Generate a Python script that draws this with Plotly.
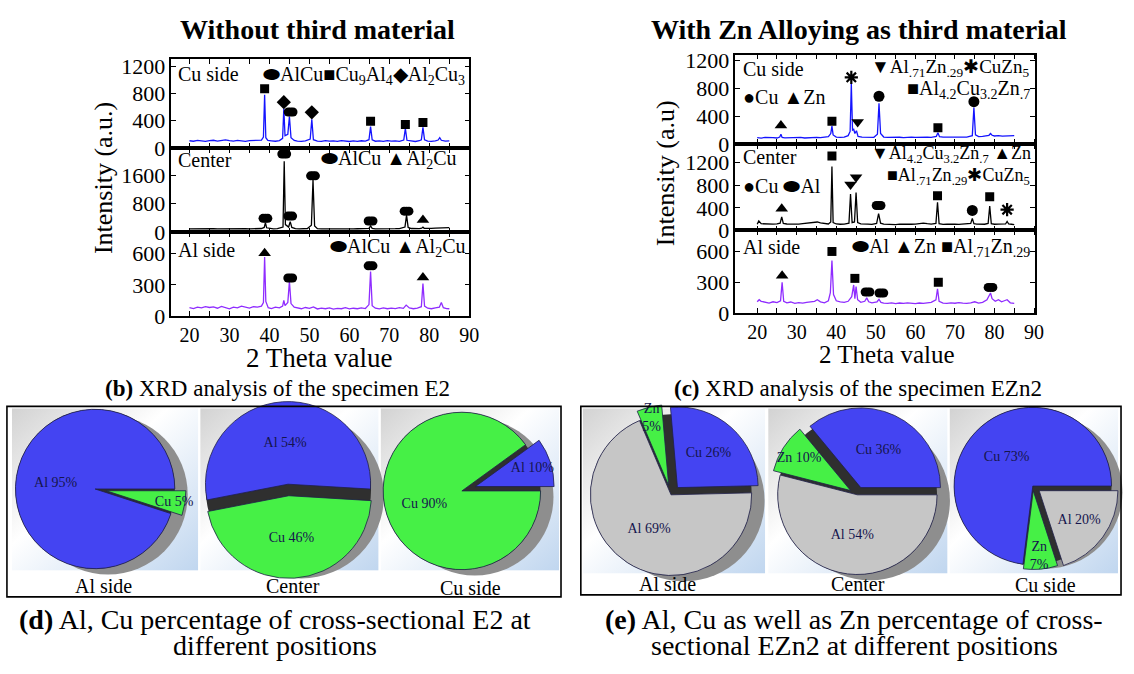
import base64
import plotly.graph_objects as go

W, H = 1134, 674
FONT = "Liberation Serif, Times New Roman, serif"

# ---------------- XRD data (2 theta, intensity) ----------------
# Without third material (E2)
XL_CU = [20, 21, 22, 23, 24, 25, 26, 27, 28, 29,
         30, 31, 32, 33, 34, 35, 36, 37, 38.0, 38.5,
         38.8, 39.1, 39.6, 40.5, 41.5, 42.5, 43.3, 43.6, 43.9, 44.6,
         45.0, 45.4, 46.2, 47, 48, 49, 50.2, 50.6, 51.0, 52,
         53, 54, 55, 56, 57, 58, 59, 60, 61, 62,
         63, 64, 64.9, 65.3, 65.7, 66.5, 67.5, 68.5, 69.5, 70.5,
         71.5, 72.5, 73.6, 74.0, 74.4, 75.5, 76.5, 77.5, 78.0, 78.4,
         78.8, 79.6, 80.5, 81.5, 82.2, 82.6, 83.0, 84, 85]
YL_CU = [105, 98, 110, 102, 95, 108, 112, 100, 104, 118,
         106, 99, 110, 103, 97, 108, 112, 120, 115, 160,
         782, 150, 110, 104, 98, 108, 140, 580, 180, 200,
         460, 150, 110, 100, 96, 104, 130, 421, 120, 100,
         95, 106, 98, 103, 96, 108, 100, 94, 102, 97,
         105, 100, 120, 312, 118, 98, 103, 95, 106, 99,
         104, 97, 115, 288, 112, 100, 94, 105, 120, 302,
         118, 100, 96, 104, 115, 150, 112, 98, 102]

XL_CE = [20, 21, 22, 23, 24, 25, 26, 27, 28, 29,
         30, 31, 32, 33, 34, 35, 36, 37, 38.0, 38.7,
         39.0, 39.3, 40.2, 41, 42, 43.0, 43.4, 43.7, 44.0, 44.8,
         45.2, 45.6, 46.5, 47.5, 48.5, 49.5, 50.5, 50.9, 51.3, 52,
         53, 54, 55, 56, 57, 58, 59, 60, 61, 62,
         63, 64, 64.9, 65.3, 65.7, 66.5, 67.5, 68.5, 69.5, 70.5,
         71.5, 72.5, 73.9, 74.3, 74.7, 75.5, 76.5, 77.5, 78.1, 78.4,
         78.7, 79.5, 80.5, 81.5, 82.5, 83.5, 84.2, 85]
YL_CE = [100, 104, 98, 102, 99, 101, 105, 97, 100, 103,
         98, 102, 100, 97, 104, 99, 102, 100, 110, 140,
         273, 130, 105, 100, 104, 130, 150, 1990, 220, 150,
         300, 140, 105, 100, 98, 110, 200, 1460, 180, 105,
         100, 98, 103, 99, 101, 97, 104, 100, 98, 102,
         100, 104, 115, 183, 112, 100, 98, 103, 99, 101,
         104, 108, 150, 485, 140, 110, 104, 108, 118, 150,
         115, 108, 112, 118, 125, 130, 140, 135]

XL_AL = [20, 21, 22, 23, 24, 25, 26, 27, 28, 29,
         30, 31, 32, 33, 34, 35, 36, 37, 38.0, 38.5,
         38.8, 39.1, 39.7, 40.5, 41.5, 42.5, 43.3, 43.6, 43.9, 44.6,
         45.0, 45.4, 46.2, 47, 48, 49, 50, 51, 52, 53,
         54, 55, 56, 57, 58, 59, 60, 61, 62, 63,
         64, 64.9, 65.3, 65.7, 66.5, 67.5, 68.5, 69.5, 70.5, 71.5,
         72.5, 73.5, 74.2, 75, 76, 77, 78.0, 78.4, 78.8, 79.6,
         80.5, 81.5, 82.5, 83.0, 83.5, 84.3, 85]
YL_AL = [80, 72, 85, 78, 90, 82, 88, 75, 92, 84,
         70, 86, 78, 95, 82, 76, 90, 85, 95, 130,
         569, 140, 80, 72, 85, 78, 95, 150, 100, 130,
         334, 120, 85, 78, 70, 82, 74, 88, 68, 76,
         70, 78, 66, 74, 70, 80, 68, 75, 70, 78,
         72, 110, 428, 100, 75, 68, 78, 70, 76, 72,
         80, 74, 105, 78, 70, 76, 90, 312, 95, 75,
         70, 78, 85, 130, 80, 72, 70]

# With Zn alloying (EZn2)
XR_CU = [20, 21, 22, 23, 24, 25, 25.7, 26.0, 26.3, 27,
         28, 29, 30, 31, 32, 33, 34, 35, 36, 37,
         38.0, 38.6, 38.9, 39.2, 40, 41, 42, 43.0, 43.5, 43.8,
         44.1, 44.4, 44.7, 45.1, 45.5, 46.5, 47.5, 48.5, 49.5, 50.4,
         50.8, 51.2, 52, 53, 54, 55, 56, 57, 58, 59,
         60, 61, 62, 63, 64, 65.3, 65.7, 66.1, 67, 68,
         69, 70, 71, 72, 73, 74.4, 74.8, 75.2, 76, 77,
         78, 78.6, 79.0, 79.4, 80, 81, 82, 83, 84, 85]
YR_CU = [90, 85, 95, 88, 92, 86, 100, 140, 95, 88,
         92, 85, 90, 94, 86, 92, 88, 95, 90, 96,
         105, 150, 257, 130, 100, 95, 98, 120, 180, 872,
         200, 210, 150, 190, 110, 98, 95, 100, 96, 140,
         583, 150, 100, 94, 98, 92, 97, 90, 95, 100,
         94, 98, 92, 100, 96, 110, 163, 105, 98, 100,
         95, 102, 98, 104, 100, 120, 523, 130, 105, 110,
         115, 125, 150, 125, 115, 120, 112, 118, 115, 120]

XR_CE = [20, 20.4, 21, 22, 23, 24, 25, 25.8, 26.2, 26.6,
         27.5, 28.5, 29.5, 30.5, 31.5, 32.5, 33.5, 34.5, 35.2, 36,
         37, 38.0, 38.6, 38.9, 39.2, 40, 41, 42, 43.2, 43.6,
         44.0, 44.6, 45.0, 45.4, 46.2, 47, 48, 49, 50.2, 50.7,
         51.2, 52, 53, 54, 55, 56, 57, 58, 59, 60,
         61, 62, 63, 64, 65.2, 65.6, 66.0, 67, 68, 69,
         70, 71, 72, 73, 74.0, 74.4, 74.8, 75.5, 76.5, 77.5,
         78.4, 78.8, 79.2, 80, 81, 82, 82.8, 83.2, 83.6, 84.3,
         85]
YR_CE = [110, 170, 120, 115, 110, 112, 118, 130, 240, 125,
         115, 110, 118, 112, 120, 125, 130, 140, 150, 135,
         120, 115, 150, 1128, 140, 115, 110, 112, 130, 642,
         140, 150, 670, 140, 118, 110, 112, 108, 125, 298,
         130, 112, 108, 110, 105, 112, 108, 115, 110, 112,
         118, 130, 120, 112, 125, 498, 120, 108, 112, 105,
         110, 108, 112, 110, 125, 213, 120, 112, 108, 110,
         125, 430, 120, 110, 112, 108, 115, 160, 115, 110,
         105]

XR_AL = [20, 20.5, 21, 22, 23, 24, 25, 25.9, 26.3, 26.7,
         27.5, 28.5, 29.5, 30.5, 31.5, 32.5, 33.5, 34.5, 35.2, 36,
         37, 38.0, 38.5, 38.9, 39.3, 40, 41, 42, 43, 43.9,
         44.4, 44.7, 45.0, 45.4, 46.2, 47.2, 47.7, 48.2, 49, 50.3,
         50.8, 51.3, 52, 53, 54, 55, 56, 57, 58, 59,
         60, 61, 62, 63, 64, 65.2, 65.6, 66.0, 67, 68,
         69, 70, 71, 72, 73, 74, 75, 76, 77, 78.1,
         78.6, 79.0, 79.4, 80.2, 81, 81.8, 82.5, 83.2, 84, 85]
YR_AL = [110, 130, 115, 105, 98, 110, 102, 120, 300, 115,
         100, 108, 95, 102, 98, 105, 110, 115, 130, 110,
         100, 120, 200, 511, 180, 120, 110, 105, 115, 160,
         274, 140, 259, 130, 105, 115, 148, 110, 100, 110,
         133, 105, 98, 95, 100, 92, 98, 95, 100, 96,
         92, 98, 94, 100, 105, 130, 237, 115, 98, 95,
         100, 96, 102, 98, 95, 100, 110, 98, 105, 130,
         170, 196, 140, 115, 130, 110, 120, 130, 100, 95]

# ---------------- peak identification markers ----------------
L_CU_SQ_X, L_CU_SQ_Y = [38.8, 65.3, 74.0, 78.4], [868, 393, 345, 374]
L_CU_DI_X, L_CU_DI_Y = [43.6, 50.6], [672, 522]
L_CU_EL_X, L_CU_EL_Y = [45.3], [528]
L_CE_EL_X, L_CE_EL_Y = [39.0, 43.7, 45.2, 50.9, 65.3, 74.3], [394, 2190, 457, 1580, 320, 594]
L_CE_TR_X, L_CE_TR_Y = [78.4], [348]
L_AL_TR_X, L_AL_TR_Y = [38.8, 78.4], [606, 372]
L_AL_EL_X, L_AL_EL_Y = [45.2, 65.3], [366, 484]
R_CU_TR_X, R_CU_TR_Y = [26.0], [266]
R_CU_SQ_X, R_CU_SQ_Y = [38.9, 65.7], [327, 233]
R_CU_AS_X, R_CU_AS_Y = [43.8], [957]
R_CU_TD_X, R_CU_TD_Y = [45.4], [317]
R_CU_CI_X, R_CU_CI_Y = [50.8, 74.8], [685, 607]
R_CE_TR_X, R_CE_TR_Y = [26.2], [384]
R_CE_SQ_X, R_CE_SQ_Y = [38.9, 65.6, 78.8], [1317, 613, 596]
R_CE_TD_X, R_CE_TD_Y = [43.6, 45.0], [813, 939]
R_CE_EL_X, R_CE_EL_Y = [50.7], [441]
R_CE_CI_X, R_CE_CI_Y = [74.4], [355]
R_CE_AS_X, R_CE_AS_Y = [83.2], [367]
R_AL_TR_X, R_AL_TR_Y = [26.3], [363]
R_AL_SQ_X, R_AL_SQ_Y = [38.9, 44.7, 65.8], [600, 338, 300]
R_AL_EL_X, R_AL_EL_Y = [47.9, 51.4, 79.0], [205, 196, 250]

X_TICKS = [20, 25, 30, 35, 40, 45, 50, 55, 60, 65, 70, 75, 80, 85, 90]
X_TICKTEXT = ["20", "", "30", "", "40", "", "50", "", "60", "", "70", "", "80", "", "90"]
Y_TICKS_CU = [0, 400, 800, 1200]
Y_TICKS_CE_L = [0, 800, 1600]
Y_TICKS_CE_R = [0, 400, 800, 1200]
Y_TICKS_AL = [0, 300, 600]

# ---------------- composition (pie) data ----------------
E2_LABELS = ["Al", "Cu"]
E2_AL_SIDE = [95, 5]
E2_CENTER = [54, 46]
E2_CU_SIDE = [10, 90]
EZN2_LABELS = ["Cu", "Al", "Zn"]
EZN2_AL_SIDE = [26, 69, 5]
EZN2_CENTER = [36, 54, 10]
EZN2_CU_SIDE = [73, 20, 7]

BLUE, GREEN, GRAY = "#4444f2", "#46f046", "#c6c6c6"


def fx(px):
    return px / W


def fy(py):
    return 1 - py / H


fig = go.Figure()
layout = dict()

BLUE_LINE = "#1414ff"
VIOLET_LINE = "#8f2cff"

panels = [
    # idx, x px domain, y px domain, y range, y ticks, color, xs, ys, xrange, show x labels
    (1, (173, 473.5), (55, 146), [0, 1300], Y_TICKS_CU, BLUE_LINE, XL_CU, YL_CU, [15.5, 90], False),
    (2, (173, 473.5), (146, 233), [0, 2360], Y_TICKS_CE_L, "#000000", XL_CE, YL_CE, [15.5, 90], False),
    (3, (173, 473.5), (233, 319), [0, 806], Y_TICKS_AL, VIOLET_LINE, XL_AL, YL_AL, [15.5, 90], True),
    (4, (742, 1044.4), (50, 142), [0, 1283], Y_TICKS_CU, BLUE_LINE, XR_CU, YR_CU, [14.5, 90.3], False),
    (5, (742, 1044.4), (142, 231), [0, 1528], Y_TICKS_CE_R, "#000000", XR_CE, YR_CE, [14.5, 90.3], False),
    (6, (742, 1044.4), (231, 316), [0, 804], Y_TICKS_AL, VIOLET_LINE, XR_AL, YR_AL, [14.5, 90.3], True),
]

for idx, xd, yd, yr, yt, col, xs, ys, xr, showx in panels:
    xa = "x" if idx == 1 else f"x{idx}"
    ya = "y" if idx == 1 else f"y{idx}"
    fig.add_trace(go.Scatter(x=xs, y=ys, mode="lines", line=dict(color=col, width=1.3),
                             xaxis=xa, yaxis=ya, showlegend=False, hoverinfo="skip"))
    xkey = "xaxis" if idx == 1 else f"xaxis{idx}"
    ykey = "yaxis" if idx == 1 else f"yaxis{idx}"
    layout[xkey] = dict(domain=[fx(xd[0]), fx(xd[1])], range=xr, anchor=ya,
                        showline=True, linecolor="black", linewidth=1.5, mirror="ticks",
                        ticks="inside", ticklen=5, tickwidth=1.2, tickcolor="black",
                        tickvals=X_TICKS, ticktext=X_TICKTEXT, showticklabels=showx,
                        tickfont=dict(family=FONT, size=20, color="black"),
                        ticklabelstandoff=0,
                        showgrid=False, zeroline=False, fixedrange=True)
    layout[ykey] = dict(domain=[fy(yd[1]), fy(yd[0])], range=yr, anchor=xa,
                        showline=True, linecolor="black", linewidth=1.5, mirror="ticks",
                        ticks="inside", ticklen=5, tickwidth=1.2, tickcolor="black",
                        tickvals=yt, tickfont=dict(family=FONT, size=22, color="black"),
                        showgrid=False, zeroline=False, fixedrange=True)


def add_markers(idx, xs, ys, symbol, size, ellipse=False, shift=0.6):
    xa = "x" if idx == 1 else f"x{idx}"
    ya = "y" if idx == 1 else f"y{idx}"
    if ellipse:
        for d in (-shift, 0, shift):
            fig.add_trace(go.Scatter(x=[v + d for v in xs], y=ys, mode="markers",
                                     marker=dict(symbol="circle", size=9, color="black",
                                                 line=dict(width=0)),
                                     xaxis=xa, yaxis=ya, showlegend=False, hoverinfo="skip"))
    else:
        mk = dict(symbol=symbol, size=size, color="black", line=dict(width=0))
        if symbol == "asterisk":
            mk = dict(symbol="asterisk", size=size, color="black", line=dict(width=2.2, color="black"))
        fig.add_trace(go.Scatter(x=xs, y=ys, mode="markers", marker=mk,
                                 xaxis=xa, yaxis=ya, showlegend=False, hoverinfo="skip"))


add_markers(1, L_CU_SQ_X, L_CU_SQ_Y, "square", 9)
add_markers(1, L_CU_DI_X, L_CU_DI_Y, "diamond", 11)
add_markers(1, L_CU_EL_X, L_CU_EL_Y, None, 0, ellipse=True)
add_markers(2, L_CE_EL_X, L_CE_EL_Y, None, 0, ellipse=True)
add_markers(2, L_CE_TR_X, L_CE_TR_Y, "triangle-up", 11)
add_markers(3, L_AL_TR_X, L_AL_TR_Y, "triangle-up", 11)
add_markers(3, L_AL_EL_X, L_AL_EL_Y, None, 0, ellipse=True)
add_markers(4, R_CU_TR_X, R_CU_TR_Y, "triangle-up", 11)
add_markers(4, R_CU_SQ_X, R_CU_SQ_Y, "square", 9)
add_markers(4, R_CU_AS_X, R_CU_AS_Y, "asterisk", 11)
add_markers(4, R_CU_TD_X, R_CU_TD_Y, "triangle-down", 11)
add_markers(4, R_CU_CI_X, R_CU_CI_Y, "circle", 11)
add_markers(5, R_CE_TR_X, R_CE_TR_Y, "triangle-up", 11)
add_markers(5, R_CE_SQ_X, R_CE_SQ_Y, "square", 9)
add_markers(5, R_CE_TD_X, R_CE_TD_Y, "triangle-down", 11)
add_markers(5, R_CE_EL_X, R_CE_EL_Y, None, 0, ellipse=True)
add_markers(5, R_CE_CI_X, R_CE_CI_Y, "circle", 11)
add_markers(5, R_CE_AS_X, R_CE_AS_Y, "asterisk", 11)
add_markers(6, R_AL_TR_X, R_AL_TR_Y, "triangle-up", 11)
add_markers(6, R_AL_SQ_X, R_AL_SQ_Y, "square", 9)
add_markers(6, R_AL_EL_X, R_AL_EL_Y, None, 0, ellipse=True)

# ---------------- pies ----------------


def pie_domain(cx, cy, r, mp):
    half = r * (1 + mp)
    half = min(half, cx, W - cx, cy, H - cy)
    return dict(x=[fx(cx - half), fx(cx + half)], y=[fy(cy + half), fy(cy - half)])


TT2 = ["%{label} %{value}%", "%{label} %{value}%", "%{label}<br>%{value}%"]
pies = [
    # cx, cy, r, labels, values, colors, rotation, pull, texttemplates
    (96, 497, 82, E2_LABELS, E2_AL_SIDE, [BLUE, GREEN], 108, [0, 0.14], None),
    (291, 498, 85, E2_LABELS, E2_CENTER, [BLUE, GREEN], -101, [0.07, 0.07], None),
    (466, 499, 81, E2_LABELS, E2_CU_SIDE, [BLUE, GREEN], 54, [0.18, 0], None),
    (677, 503, 83, EZN2_LABELS, EZN2_AL_SIDE, [BLUE, GRAY, GREEN], -5, [0.12, 0, 0.12], TT2),
    (865, 503, 82, EZN2_LABELS, EZN2_CENTER, [BLUE, GRAY, GREEN], -39.6, [0.1, 0, 0.1], None),
    (1042, 494, 81, EZN2_LABELS, EZN2_CU_SIDE, [BLUE, GRAY, GREEN], 187.2, [0, 0.1, 0.06], TT2),
]

# shadows
for cx, cy, r, *_ in pies:
    fig.add_trace(go.Pie(values=[1], domain=pie_domain(cx + 13, cy + 6, r, 0), sort=False,
                         marker=dict(colors=["#8e8e8e"], line=dict(width=0)),
                         textinfo="none", showlegend=False, hoverinfo="skip"))
# dark sides (visible in gaps of exploded slices)
for cx, cy, r, *_ in pies:
    fig.add_trace(go.Pie(values=[1], domain=pie_domain(cx, cy, r, 0), sort=False,
                         marker=dict(colors=["#2f2f2f"], line=dict(width=0)),
                         textinfo="none", showlegend=False, hoverinfo="skip"))
for cx, cy, r, labels, vals, cols, rot, pull, tt in pies:
    fig.add_trace(go.Pie(labels=labels, values=vals, domain=pie_domain(cx, cy, r, max(pull)),
                         sort=False, direction="clockwise", rotation=rot, pull=pull,
                         marker=dict(colors=cols, line=dict(color="#20204a", width=0.8)),
                         texttemplate=tt if tt else "%{label} %{value}%",
                         textinfo="text", textposition="inside", insidetextorientation="horizontal",
                         textfont=dict(family=FONT, size=14, color="#15154d"),
                         showlegend=False, hoverinfo="skip"))

# ---------------- backgrounds, frames ----------------
SVG_BG = ("<svg xmlns='http://www.w3.org/2000/svg' viewBox='0 0 100 100' preserveAspectRatio='none' "
          "width='100' height='100'><defs><linearGradient id='g' x1='0' y1='0' x2='1' y2='1'>"
          "<stop offset='0' stop-color='#d2d2d2'/><stop offset='0.42' stop-color='#ffffff'/>"
          "<stop offset='1' stop-color='#c0d6ef'/></linearGradient></defs>"
          "<rect x='0' y='0' width='100' height='100' fill='url(#g)'/></svg>")
BG_URI = "data:image/svg+xml;base64," + base64.b64encode(SVG_BG.encode()).decode()

cells = [(12, 414, 200, 581), (202, 414, 382, 581), (384, 414, 564, 581),
         (588, 414, 772, 584), (775, 414, 956, 584), (958, 414, 1128, 584)]
images = []
for x0, y0, x1, y1 in cells:
    images.append(dict(source=BG_URI, xref="paper", yref="paper", x=fx(x0), y=fy(y0),
                       sizex=(x1 - x0) / W, sizey=(y1 - y0) / H, xanchor="left", yanchor="top",
                       sizing="stretch", layer="below"))

shapes = []
for x0, y0, x1, y1 in [(7, 412, 566, 608), (586, 412, 1131, 606)]:
    shapes.append(dict(type="rect", xref="paper", yref="paper", x0=fx(x0), x1=fx(x1),
                       y0=fy(y1), y1=fy(y0), line=dict(color="black", width=1.6)))

# ---------------- texts ----------------
annotations = []


def ann(text, x, y, size, xanchor="center", bold=False, angle=0):
    if bold:
        text = f"<b>{text}</b>"
    annotations.append(dict(text=text, x=fx(x), y=fy(y), xref="paper", yref="paper",
                            xanchor=xanchor, yanchor="middle", showarrow=False, textangle=angle,
                            font=dict(family=FONT, size=size, color="black")))


EL = "⬬"
ann("Without third material", 320, 24, 28, bold=True)
ann("With Zn Alloying as third material", 867, 24, 28, bold=True)

ann("Intensity (a.u.)", 104, 177, 26, angle=-90)
ann("Intensity (a.u)", 671, 172, 26, angle=-90)
ann("2 Theta value", 322, 362, 27)
ann("2 Theta value", 895, 359, 25)

ann("Cu side", 178, 70, 20, "left")
ann(EL + "AlCu■Cu<sub>9</sub>Al<sub>4</sub>◆Al<sub>2</sub>Cu<sub>3</sub>", 471, 72, 20, "right")
ann("Center", 178, 158, 20, "left")
ann(EL + "AlCu ▲Al<sub>2</sub>Cu", 462, 158, 20, "right")
ann("Al side", 178, 251, 20, "left")
ann(EL + "AlCu ▲Al<sub>2</sub>Cu", 471, 248, 20, "right")

ann("Cu side", 748, 65, 20, "left")
ann("▼Al<sub>.71</sub>Zn<sub>.29</sub>✱CuZn<sub>5</sub>", 1040, 64, 19, "right")
ann("■Al<sub>4.2</sub>Cu<sub>3.2</sub>Zn<sub>.7</sub>", 1041, 86, 20, "right")
ann("●Cu ▲Zn", 748, 94, 20, "left")
ann("Center", 748, 155, 20, "left")
ann("▼Al<sub>4.2</sub>Cu<sub>3.2</sub>Zn<sub>.7</sub> ▲Zn", 1042, 153, 18, "right")
ann("■Al<sub>.71</sub>Zn<sub>.29</sub>✱CuZn<sub>5</sub>", 1041, 175, 18, "right")
ann("●Cu " + EL + "Al", 748, 185, 20, "left")
ann("Al side", 748, 248, 20, "left")
ann(EL + "Al ▲Zn ■Al<sub>.71</sub>Zn<sub>.29</sub>", 1041, 248, 20, "right")

ann("<b>(b)</b> XRD analysis of the specimen E2", 280, 394, 23)
ann("<b>(c)</b> XRD analysis of the specimen EZn2", 866, 394, 23)

ann("Al side", 104, 597, 20)
ann("Center", 296, 597, 20)
ann("Cu side", 475, 599, 20)
ann("Al side", 673, 595, 20)
ann("Center", 866, 595, 20)
ann("Cu side", 1055, 596, 20)

ann("<b>(d)</b> Al, Cu percentage of cross-sectional E2 at", 277, 631, 28)
ann("different positions", 277, 658, 28)
ann("<b>(e)</b> Al, Cu as well as Zn percentage of cross-", 862, 631, 28)
ann("sectional EZn2 at different positions", 862, 658, 28)

fig.update_layout(
    width=W, height=H, margin=dict(l=0, r=0, t=0, b=0),
    paper_bgcolor="white", plot_bgcolor="rgba(0,0,0,0)",
    images=images, shapes=shapes, annotations=annotations,
    uniformtext=dict(minsize=13, mode="show"),
    font=dict(family=FONT), showlegend=False, **layout)

fig.write_html("out.html", config={"displayModeBar": False},
               post_script="document.body.style.margin='0px';document.body.style.overflow='hidden';")
